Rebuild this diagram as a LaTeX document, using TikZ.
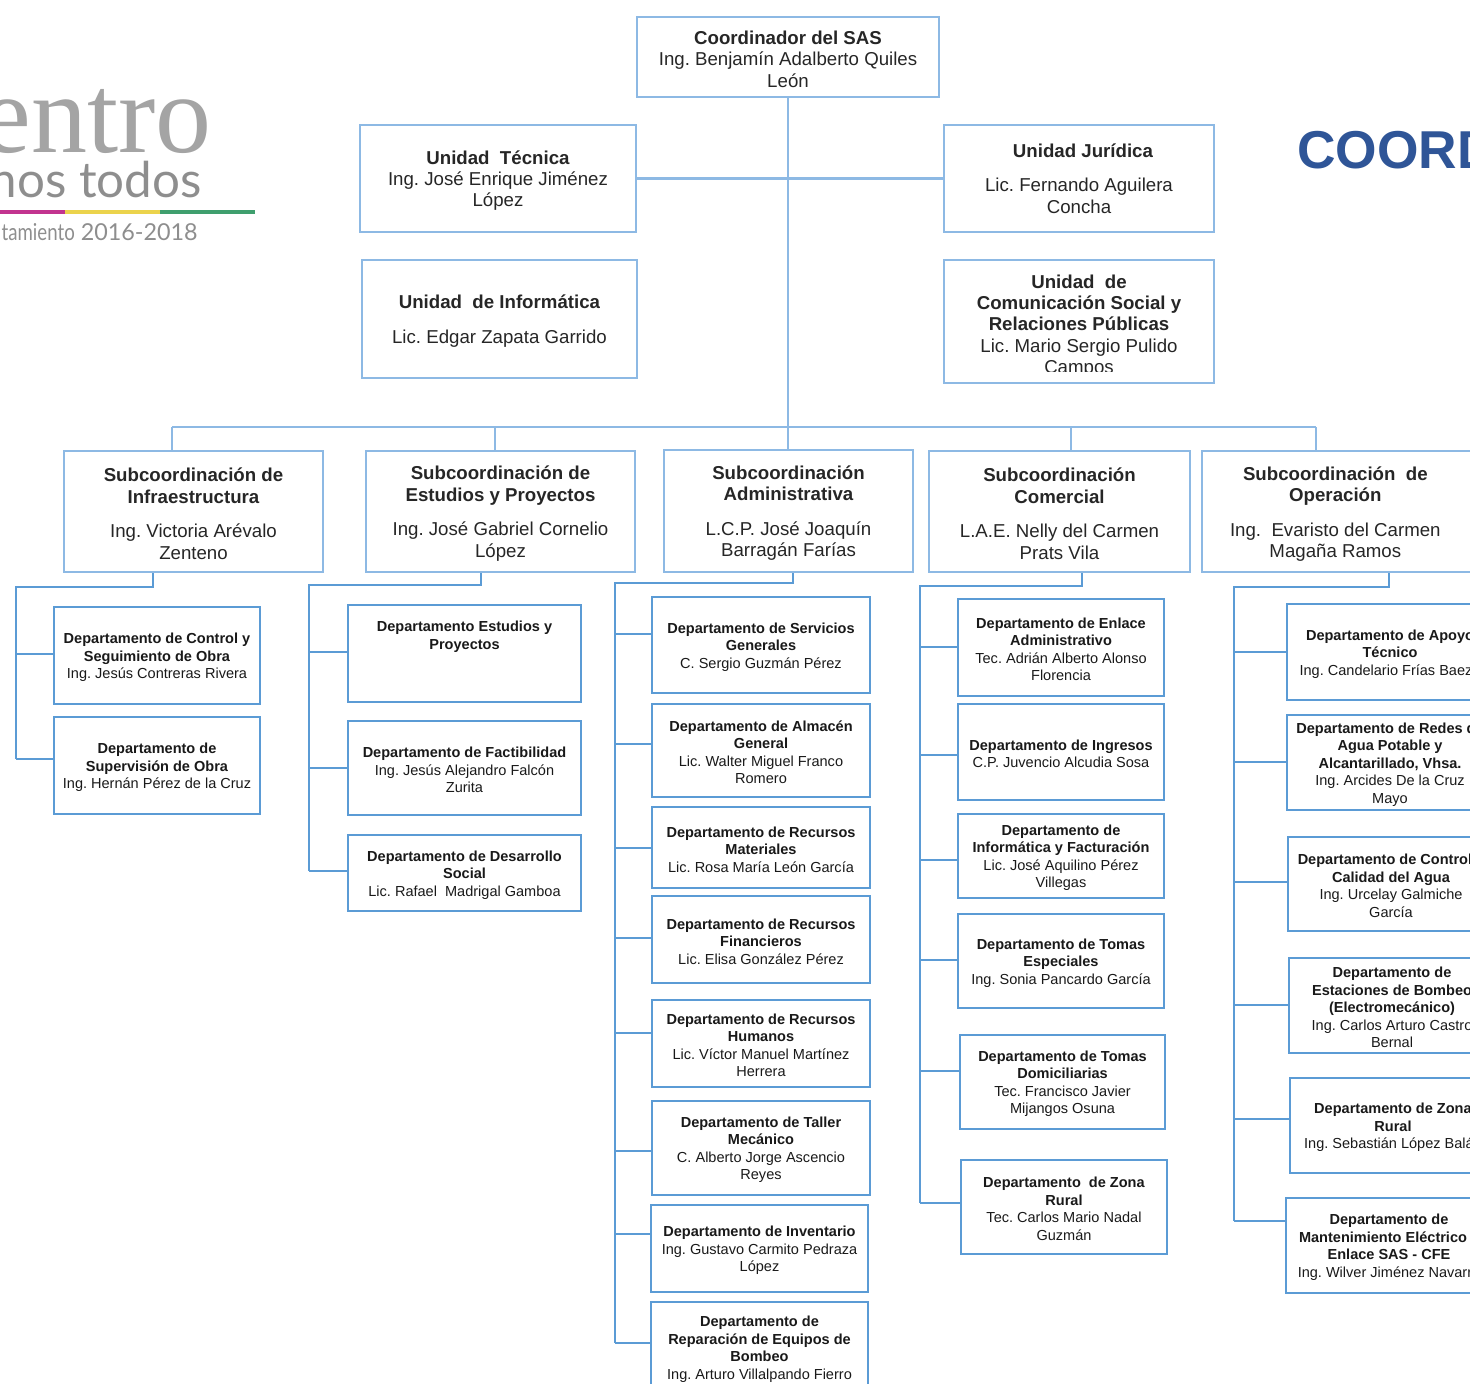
\documentclass[tikz,border=0pt]{standalone}
\usepackage{fontspec}
\setmainfont{Liberation Sans}
\newfontfamily\logoserif{Liberation Serif}
\newfontfamily\logosans{Lato}
\definecolor{unitblue}{HTML}{8DB9E4}
\definecolor{deptblue}{HTML}{5B9BD5}
\definecolor{titleblue}{HTML}{2F5597}
\definecolor{logogray}{HTML}{8E8E8E}
\definecolor{logomagenta}{HTML}{C2348F}
\definecolor{logoyellow}{HTML}{EBD34C}
\definecolor{logogreen}{HTML}{3F9F6E}
\newcommand{\lowered}{\\[-2.5pt]}
\tikzset{
  size/.style 2 args={minimum width=#1*0.75pt,minimum height=#2*0.75pt},
  unit/.style={draw=unitblue,line width=1.8pt,inner sep=0pt,align=center,text=black!85,
    font=\fontsize{14}{16}\selectfont},
  dept/.style={draw=deptblue,line width=2.2pt,inner sep=0pt,align=center,text=black!90,
    font=\fontsize{10.9}{13.15}\selectfont},
  unitline/.style={draw=unitblue,line width=1.9pt},
  deptline/.style={draw=deptblue,line width=2pt,line join=miter}
}

\begin{document}
\frenchspacing
\begin{tikzpicture}[x=0.75pt, y=-0.75pt]
    \path[use as bounding box, clip] (0,0) rectangle (1470,1384);

    % logo
    \node[text=logogray!80,anchor=base east,inner sep=0pt,font=\logoserif\fontsize{84}{84}\selectfont] (L_1) at (212,152) {entro};
    \node[text=logogray,anchor=base east,inner sep=0pt,font=\logosans\fontsize{37}{37}\selectfont] (L_2) at (202,197) {nos todos};
    \node[text=logogray,anchor=base east,inner sep=0pt,font=\logosans\fontsize{17.5}{18}\selectfont] (L_3) at (198,240) {\scalebox{.8}[1]{tamiento} 2016-2018};
    \fill[logomagenta] (0,210) rectangle (65,214);
    \fill[logoyellow] (65,210) rectangle (160,214);
    \fill[logogreen] (160,210) rectangle (255,214);
    \node[text=titleblue,anchor=west,inner sep=0pt,font=\bfseries\fontsize{40}{40}\selectfont] (L_4) at (1297,150) {COORD};

    % coordinacion y unidades
    \node[unit,size={302}{80}] (C_0) at (788,57) {\lowered\textbf{Coordinador del SAS}\\Ing. Benjamín Adalberto Quiles\\León};
    \node[unit,size={276}{107}] (U_1) at (498,178.5) {\lowered\textbf{Unidad\ \ Técnica}\\Ing. José Enrique Jiménez\\López};
    \node[unit,size={270}{107},label={[unit,draw=none]center:{\hspace*{6pt}\textbf{Unidad Jurídica}\\[10pt]Lic. Fernando Aguilera\\Concha}}] (U_2) at (1079,178.5) {};
    \node[unit,size={275}{118}] (U_3) at (499.5,319) {\lowered\textbf{Unidad\ \ de Informática}\\[10pt]Lic. Edgar Zapata Garrido};
    \node[unit,size={270}{123},label={[unit,draw=none,yshift=-3.5pt]center:{\textbf{Unidad\ \ de}\\\textbf{Comunicación Social y}\\\textbf{Relaciones Públicas}\\Lic. Mario Sergio Pulido\\Campos}}] (U_4) at (1079,321.5) {};
    \fill[white] (1000,371.5) rectangle (1150,381);

    % subcoordinaciones
    \node[unit,size={259}{121}] (S_1) at (193.5,511.5) {\lowered\textbf{Subcoordinación de}\\\textbf{Infraestructura}\\[10pt]Ing. Victoria Arévalo\\Zenteno};
    \node[unit,size={269}{121}] (S_2) at (500.5,511.5) {\lowered\textbf{Subcoordinación de}\\\textbf{Estudios y Proyectos}\\[10pt]Ing. José Gabriel Cornelio\\López};
    \node[unit,size={249}{122}] (S_3) at (788.5,511) {\lowered\textbf{Subcoordinación}\\\textbf{Administrativa}\\[10pt]L.C.P. José Joaquín\\Barragán Farías};
    \node[unit,size={261}{121}] (S_4) at (1059.5,511.5) {\lowered\textbf{Subcoordinación}\\\textbf{Comercial}\\[10pt]L.A.E. Nelly del Carmen\\Prats Vila};
    \node[unit,size={272}{121},label={[unit,draw=none,xshift=-2pt,yshift=-2pt]center:{\textbf{Subcoordinación\ \ de}\\\textbf{Operación}\\[10pt]Ing.\ \ Evaristo del Carmen\\Magaña Ramos}}] (S_5) at (1338,511.5) {};

    % departamentos de infraestructura
    \node[dept,size={206}{97}] (D1_1) at (157,655.5) {\lowered\textbf{Departamento de Control y}\\\textbf{Seguimiento de Obra}\\Ing. Jesús Contreras Rivera};
    \node[dept,size={206}{97}] (D1_2) at (157,765.5) {\lowered\textbf{Departamento de}\\\textbf{Supervisión de Obra}\\Ing. Hernán Pérez de la Cruz};

    % departamentos de estudios
    \node[dept,size={233}{97}] (D2_1) at (464.5,653.5) {\lowered\textbf{Departamento Estudios y}\\\textbf{Proyectos}\\ \\[4pt] \ };
    \node[dept,size={233}{94}] (D2_2) at (464.5,768) {\lowered\textbf{Departamento de Factibilidad}\\Ing. Jesús Alejandro Falcón\\Zurita};
    \node[dept,size={233}{76}] (D2_3) at (464.5,873) {\lowered\textbf{Departamento de Desarrollo}\\\textbf{Social}\\Lic. Rafael\ \ Madrigal Gamboa};

    % departamentos administrativos
    \node[dept,size={218}{96}] (D3_1) at (761,645) {\lowered\textbf{Departamento de Servicios}\\\textbf{Generales}\\C. Sergio Guzmán Pérez};
    \node[dept,size={218}{93}] (D3_2) at (761,750.5) {\lowered\textbf{Departamento de Almacén}\\\textbf{General}\\Lic. Walter Miguel Franco\\Romero};
    \node[dept,size={218}{81}] (D3_3) at (761,847.5) {\lowered\textbf{Departamento de Recursos}\\\textbf{Materiales}\\Lic. Rosa María León García};
    \node[dept,size={218}{87}] (D3_4) at (761,939.5) {\lowered\textbf{Departamento de Recursos}\\\textbf{Financieros}\\Lic. Elisa González Pérez};
    \node[dept,size={218}{87}] (D3_5) at (761,1043.5) {\lowered\textbf{Departamento de Recursos}\\\textbf{Humanos}\\Lic. Víctor Manuel Martínez\\Herrera};
    \node[dept,size={218}{94}] (D3_6) at (761,1148) {\lowered\textbf{Departamento de Taller}\\\textbf{Mecánico}\\C. Alberto Jorge Ascencio\\Reyes};
    \node[dept,size={217}{87}] (D3_7) at (759.5,1248.5) {\lowered\textbf{Departamento de Inventario}\\Ing. Gustavo Carmito Pedraza\\López};
    \node[dept,size={217}{100},label={[dept,draw=none,yshift=2.25pt]center:{\textbf{Departamento de}\\\textbf{Reparación de Equipos de}\\\textbf{Bombeo}\\Ing. Arturo Villalpando Fierro}}] (D3_8) at (759.5,1352) {};

    % departamentos comerciales
    \node[dept,size={206}{97}] (D4_1) at (1061,647.5) {\lowered\textbf{Departamento de Enlace}\\\textbf{Administrativo}\\Tec. Adrián Alberto Alonso\\Florencia};
    \node[dept,size={206}{96}] (D4_2) at (1061,752) {\lowered\textbf{Departamento de Ingresos}\\C.P. Juvencio Alcudia Sosa};
    \node[dept,size={206}{84}] (D4_3) at (1061,856) {\lowered\textbf{Departamento de}\\\textbf{Informática y Facturación}\\Lic. José Aquilino Pérez\\Villegas};
    \node[dept,size={206}{94}] (D4_4) at (1061,961) {\lowered\textbf{Departamento de Tomas}\\\textbf{Especiales}\\Ing. Sonia Pancardo García};
    \node[dept,size={205}{94}] (D4_5) at (1062.5,1082) {\lowered\textbf{Departamento de Tomas}\\\textbf{Domiciliarias}\\Tec. Francisco Javier\\Mijangos Osuna};
    \node[dept,size={206}{94}] (D4_6) at (1064,1207) {\lowered\textbf{Departamento\ \ de Zona}\\\textbf{Rural}\\Tec. Carlos Mario Nadal\\Guzmán};

    % departamentos de operacion
    \node[dept,size={206}{96}] (D5_1) at (1390,652) {\lowered\textbf{Departamento de Apoyo}\\\textbf{Técnico}\\Ing. Candelario Frías Baez\hspace*{6pt}\mbox{}};
    \node[dept,size={206}{95}] (D5_2) at (1390,762.5) {\lowered\textbf{Departamento de Redes de}\\\textbf{Agua Potable y}\\\textbf{Alcantarillado, Vhsa.}\\Ing. Arcides De la Cruz\\Mayo};
    \node[dept,size={206}{94}] (D5_3) at (1391,884) {\lowered\textbf{Departamento de Control y}\\\textbf{Calidad del Agua}\\Ing. Urcelay Galmiche\\García};
    \node[dept,size={206}{95}] (D5_4) at (1392,1005.5) {\lowered\textbf{Departamento de}\\\textbf{Estaciones de Bombeo}\\\textbf{(Electromecánico)}\\Ing. Carlos Arturo Castro\\Bernal};
    \node[dept,size={206}{95}] (D5_5) at (1393,1125.5) {\lowered\textbf{Departamento de Zona}\\\textbf{Rural}\\Ing. Sebastián López Balán};
    \node[dept,size={206}{95}] (D5_6) at (1389,1245.5) {\lowered\textbf{Departamento de}\\\textbf{Mantenimiento Eléctrico}\hspace*{9pt}\mbox{}\\\textbf{Enlace SAS - CFE}\\Ing. Wilver Jiménez Navarro};

    \draw[unitline] (C_0.south) -- (C_0.south |- S_3.north);
    \draw[unitline] (U_1.east) -- (U_2.west);
    \coordinate (J_1) at (172,427);
    \coordinate (J_5) at (1316,427);
    \draw[unitline] (J_1) -- (J_5);
    \foreach \k/\xa in {1/172,2/495,4/1071,5/1316} {
        \coordinate (J) at (\xa,427);
        \draw[unitline] (J) -- (J |- S_\k.north);
    }

    \foreach \k/\xa/\ya/\xb/\yb in {1/153/587/16/759,2/481/585/309/871,3/793/583/615/1343,4/1082/586/920/1203,5/1389/587/1234/1221} {
        \coordinate (T_\k) at (\xa,\ya);
        \coordinate (B_\k) at (\xb,\yb);
        \draw[deptline] (T_\k |- S_\k.south) -- (T_\k) -- (T_\k -| B_\k) -- (B_\k);
    }
    \foreach \k/\name/\yb in {1/D1_1/654,1/D1_2/759,
        2/D2_1/652,2/D2_2/768,2/D2_3/871,
        3/D3_1/634,3/D3_2/744,3/D3_3/848,3/D3_4/938,3/D3_5/1033,3/D3_6/1151,3/D3_7/1234,3/D3_8/1343,
        4/D4_1/647,4/D4_2/755,4/D4_3/860,4/D4_4/960,4/D4_5/1071,4/D4_6/1203,
        5/D5_1/652,5/D5_2/762,5/D5_3/882,5/D5_4/1005,5/D5_5/1119,5/D5_6/1221} {
        \coordinate (R) at (B_\k |- 0,\yb);
        \draw[deptline] (R) -- (R -| \name.west);
    }
\end{tikzpicture}
\end{document}
